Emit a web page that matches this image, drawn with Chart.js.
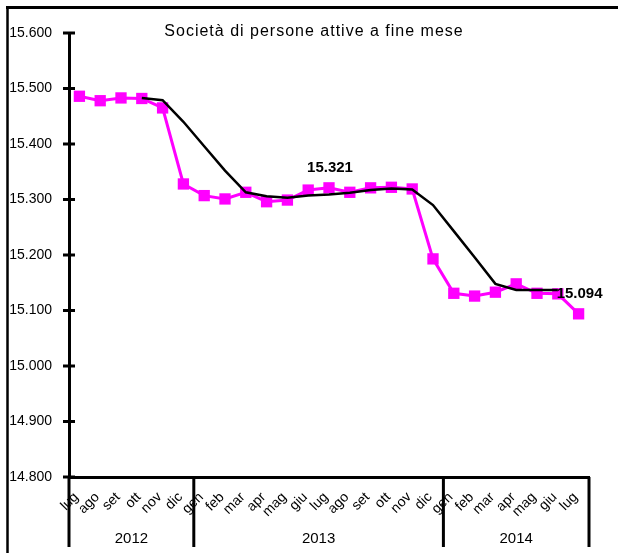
<!DOCTYPE html>
<html><head><meta charset="utf-8">
<script src="https://cdn.jsdelivr.net/npm/chart.js@4.4.1/dist/chart.umd.min.js"></script>
<style>html,body{margin:0;padding:0;background:#fff}canvas{display:block}</style>
</head><body>
<canvas id="c" width="618" height="553"></canvas>
<script>
const titleText = 'Società di persone attive a fine mese';
const months = ['lug','ago','set','ott','nov','dic','gen','feb','mar','apr','mag','giu','lug','ago','set','ott','nov','dic','gen','feb','mar','apr','mag','giu','lug'];
const years = ['2012','2013','2014'];
const monthsPerYear = [6, 12, 7];
const attive = [15486,15478,15483,15482,15465,15328,15307,15301,15313,15296,15299,15317,15321,15313,15321,15322,15319,15193,15131,15126,15133,15148,15131,15130,15094];
const mediaMobile = [null,null,null,15483,15479,15440,15396,15352,15313,15306,15303,15307,15309,15312,15317,15320,15318,15290,15243,15196,15148,15137,15137,15137,null];
const labelledPoints = [12, 24];
const yMin = 14800, yMax = 15600, yStep = 100;

const FONT = '"Liberation Sans", Arial, sans-serif';
function fmt(v){ return String(Math.round(v)).replace(/\B(?=(\d{3})+(?!\d))/g, '.'); }

const decor = {
  id: 'decor',
  afterDatasetsDraw(chart){
    const ctx = chart.ctx;
    const meta = chart.getDatasetMeta(1);
    ctx.save();
    ctx.fillStyle = '#000';
    ctx.font = 'bold 15px ' + FONT;
    ctx.textAlign = 'center';
    ctx.textBaseline = 'middle';
    labelledPoints.forEach(i => {
      const p = meta.data[i];
      ctx.fillText(fmt(attive[i]), p.x + 1, p.y - 20);
    });
    ctx.restore();
  },
  afterDraw(chart){
    const ctx = chart.ctx;
    const xs = chart.scales.x, ys = chart.scales.y;
    const area = chart.chartArea;
    ctx.save();
    ctx.strokeStyle = '#000';
    ctx.lineWidth = 3;
    ctx.beginPath(); ctx.moveTo(6, 7.5); ctx.lineTo(618, 7.5); ctx.stroke();
    ctx.lineWidth = 2.5;
    ctx.beginPath(); ctx.moveTo(7.5, 6); ctx.lineTo(7.5, 553); ctx.stroke();
    ctx.fillStyle = '#000';
    ctx.font = '16px ' + FONT;
    if ('letterSpacing' in ctx) ctx.letterSpacing = '1px';
    ctx.textAlign = 'center';
    ctx.textBaseline = 'middle';
    ctx.fillText(titleText, 314, 32);
    if ('letterSpacing' in ctx) ctx.letterSpacing = '0px';
    ctx.lineWidth = 3;
    ys.ticks.forEach(t => {
      const y = ys.getPixelForValue(t.value);
      ctx.beginPath(); ctx.moveTo(area.left - 6, y); ctx.lineTo(area.left + 6, y); ctx.stroke();
    });
    const half = xs.width / months.length / 2;
    let start = 0;
    const bounds = [area.left];
    monthsPerYear.forEach((n, k) => {
      const end = start + n;
      const right = end >= months.length ? area.right : xs.getPixelForValue(end) - half;
      bounds.push(right);
      const left = bounds[k];
      ctx.font = '15px ' + FONT;
      ctx.textAlign = 'center';
      ctx.textBaseline = 'middle';
      ctx.fillText(years[k], (left + right) / 2, 539);
      start = end;
    });
    ctx.lineWidth = 3;
    bounds.forEach(x => {
      ctx.beginPath(); ctx.moveTo(x, area.bottom); ctx.lineTo(x, 547); ctx.stroke();
    });
    ctx.restore();
  }
};

new Chart(document.getElementById('c'), {
  type: 'line',
  data: {
    labels: months,
    datasets: [
      { label: 'media', data: mediaMobile, borderColor: '#000', borderWidth: 2.5, pointRadius: 0, tension: 0, order: 0 },
      { label: 'attive', data: attive, borderColor: '#FF00FF', backgroundColor: '#FF00FF', borderWidth: 3,
        pointStyle: 'rect', pointRadius: 8, pointBorderWidth: 0, tension: 0, order: 1 }
    ]
  },
  options: {
    responsive: false,
    animation: false,
    devicePixelRatio: 1,
    layout: { padding: { top: 33, right: 29, left: 0, bottom: 0 } },
    plugins: { legend: { display: false }, tooltip: { enabled: false }, title: { display: false } },
    scales: {
      x: {
        offset: true,
        grid: { display: false, drawTicks: false },
        border: { display: true, color: '#000', width: 3 },
        ticks: { color: '#000', font: { family: FONT, size: 14 }, minRotation: 45, maxRotation: 45, padding: 12, labelOffset: -3, autoSkip: false },
        afterFit(s){ s.height = 76; }
      },
      y: {
        min: yMin, max: yMax,
        grid: { display: false, drawTicks: true, tickLength: 6 },
        border: { display: true, color: '#000', width: 3 },
        ticks: { stepSize: yStep, color: '#000', font: { family: FONT, size: 14 }, padding: 11, callback: v => fmt(v) },
        afterFit(s){ s.width = 69; }
      }
    }
  },
  plugins: [decor]
});
</script>
</body></html>
